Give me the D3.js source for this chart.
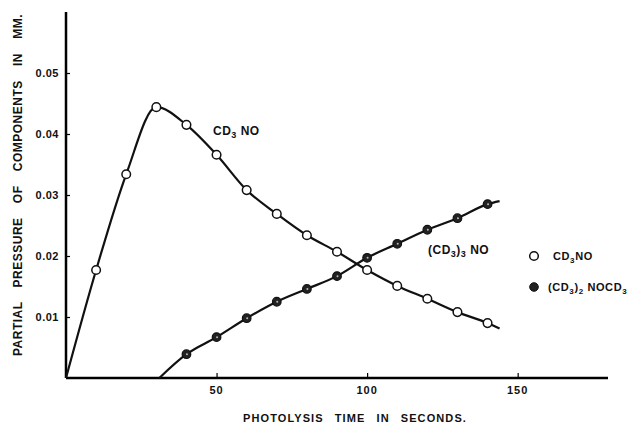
<!DOCTYPE html>
<html>
<head>
<meta charset="utf-8">
<script src="https://cdn.jsdelivr.net/npm/d3@7"></script>
<style>
  body { margin: 0; background: #fff; }
  text { font-family: "Liberation Sans", Arial, sans-serif; font-weight: bold; fill: #111; }
</style>
</head>
<body>
<div id="chart"></div>
<script>
// measured points (seconds, mm)
const times = [10, 20, 30, 40, 50, 60, 70, 80, 90, 100, 110, 120, 130, 140];
const cd3noVals = [0.0177, 0.0334, 0.0444, 0.0415, 0.0366, 0.0308, 0.0269, 0.0234, 0.0207, 0.0177, 0.0151, 0.0130, 0.0108, 0.0090];
const trimTimes = [40, 50, 60, 70, 80, 90, 100, 110, 120, 130, 140];
const trimVals = [0.0039, 0.0067, 0.0098, 0.0125, 0.0146, 0.0167, 0.0197, 0.0220, 0.0243, 0.0262, 0.0285];

// ends of the drawn curves
const cd3noStart = [0, 0];
const cd3noEnd = [144, 0.0081];
const trimStart = [31, 0];
const trimEnd = [144, 0.0290];

const xTicks = [50, 100, 150];
const yTicks = [0.01, 0.02, 0.03, 0.04, 0.05];

const width = 641, height = 429;
const margin = {left: 66, right: 33, top: 12, bottom: 51};

const svg = d3.select('#chart').append('svg')
    .attr('width', width)
    .attr('height', height);

const x = d3.scaleLinear().domain([0, 180]).range([margin.left, width - margin.right]);
const y = d3.scaleLinear().domain([0, 0.06]).range([height - margin.bottom, margin.top]);

// axes: thick lines, ticks pointing inward
const xAxis = svg.append('g')
    .attr('transform', 'translate(0,' + y(0) + ')')
    .call(d3.axisTop(x).tickValues(xTicks).tickSize(5).tickFormat(''));
xAxis.select('.domain').attr('d', 'M' + x(0) + ',0H' + x(180)).attr('stroke-width', 2.5);
xAxis.selectAll('.tick line').attr('stroke-width', 1.2);

svg.append('g')
    .selectAll('text')
    .data(xTicks)
    .join('text')
    .attr('x', d => x(d))
    .attr('y', y(0) + 16)
    .attr('text-anchor', 'middle')
    .attr('font-size', 11)
    .attr('letter-spacing', 1)
    .text(d => d);

const yAxis = svg.append('g')
    .attr('transform', 'translate(' + x(0) + ',0)')
    .call(d3.axisRight(y).tickValues(yTicks).tickSize(4).tickFormat(''));
yAxis.select('.domain').attr('d', 'M0,' + y(0) + 'V' + y(0.06)).attr('stroke-width', 2.5);
yAxis.selectAll('.tick line').attr('stroke-width', 1.2);

svg.append('g')
    .selectAll('text')
    .data(yTicks)
    .join('text')
    .attr('x', x(0) - 7)
    .attr('y', d => y(d) + 4)
    .attr('text-anchor', 'end')
    .attr('font-size', 11)
    .attr('letter-spacing', 0.5)
    .text(d => d3.format('.2f')(d));

// curves
const line = d3.line()
    .x(d => x(d[0]))
    .y(d => y(d[1]))
    .curve(d3.curveMonotoneX);

const cd3noPts = [cd3noStart].concat(times.map((t, i) => [t, cd3noVals[i]]), [cd3noEnd]);
const trimPts = [trimStart].concat(trimTimes.map((t, i) => [t, trimVals[i]]), [trimEnd]);

svg.append('path')
    .datum(cd3noPts)
    .attr('d', line)
    .attr('fill', 'none')
    .attr('stroke', '#111')
    .attr('stroke-width', 2.2);

svg.append('path')
    .datum(trimPts)
    .attr('d', line)
    .attr('fill', 'none')
    .attr('stroke', '#111')
    .attr('stroke-width', 2.2);

// markers
svg.append('g')
    .selectAll('circle')
    .data(times.map((t, i) => [t, cd3noVals[i]]))
    .join('circle')
    .attr('cx', d => x(d[0]))
    .attr('cy', d => y(d[1]))
    .attr('r', 4.3)
    .attr('fill', '#fff')
    .attr('stroke', '#111')
    .attr('stroke-width', 1.5);

const filled = svg.append('g')
    .selectAll('g')
    .data(trimTimes.map((t, i) => [t, trimVals[i]]))
    .join('g')
    .attr('transform', d => 'translate(' + x(d[0]) + ',' + y(d[1]) + ')');
filled.append('circle').attr('r', 4.3).attr('fill', '#222').attr('stroke', '#111').attr('stroke-width', 1.2);
filled.append('circle').attr('r', 1).attr('cx', 0.5).attr('fill', '#bbb');

// curve labels
svg.append('text')
    .attr('x', 213).attr('y', 135)
    .attr('font-size', 12)
    .attr('letter-spacing', 0.5)
    .html('CD<tspan font-size="9" dy="3">3</tspan><tspan dy="-3"> NO</tspan>');

svg.append('text')
    .attr('x', 428).attr('y', 254)
    .attr('font-size', 12)
    .attr('letter-spacing', 0.5)
    .html('(CD<tspan font-size="9" dy="3">3</tspan><tspan dy="-3">)</tspan><tspan font-size="9" dy="3">3</tspan><tspan dy="-3"> NO</tspan>');

// legend
const legend = svg.append('g');
legend.append('circle').attr('cx', 534).attr('cy', 256).attr('r', 4.3)
    .attr('fill', '#fff').attr('stroke', '#111').attr('stroke-width', 1.5);
legend.append('text').attr('x', 553).attr('y', 260).attr('font-size', 11)
    .attr('letter-spacing', 0.6)
    .html('CD<tspan font-size="8" dy="3">3</tspan><tspan dy="-3">NO</tspan>');
legend.append('circle').attr('cx', 534).attr('cy', 287).attr('r', 4.3)
    .attr('fill', '#222').attr('stroke', '#111');
legend.append('text').attr('x', 548).attr('y', 291).attr('font-size', 11)
    .attr('letter-spacing', 0.6)
    .html('(CD<tspan font-size="8" dy="3">3</tspan><tspan dy="-3">)</tspan><tspan font-size="8" dy="3">2</tspan><tspan dy="-3"> NOCD</tspan><tspan font-size="8" dy="3">3</tspan>');

// axis titles, word gaps stretched to the printed length
function spreadWords(sel, target) {
    const n = sel.text().split(' ').length - 1;
    const w = sel.node().getComputedTextLength();
    sel.attr('word-spacing', Math.max(0, (target - w) / n));
}

const xTitle = svg.append('text')
    .attr('x', 355).attr('y', 422)
    .attr('text-anchor', 'middle')
    .attr('font-size', 11)
    .attr('letter-spacing', 1.1)
    .text('PHOTOLYSIS TIME IN SECONDS.');
spreadWords(xTitle, 224);

const yTitle = svg.append('text')
    .attr('transform', 'translate(22,185) rotate(-90)')
    .attr('text-anchor', 'middle')
    .attr('font-size', 12)
    .attr('letter-spacing', 0.5)
    .text('PARTIAL PRESSURE OF COMPONENTS IN MM.');
spreadWords(yTitle, 342);
</script>
</body>
</html>
